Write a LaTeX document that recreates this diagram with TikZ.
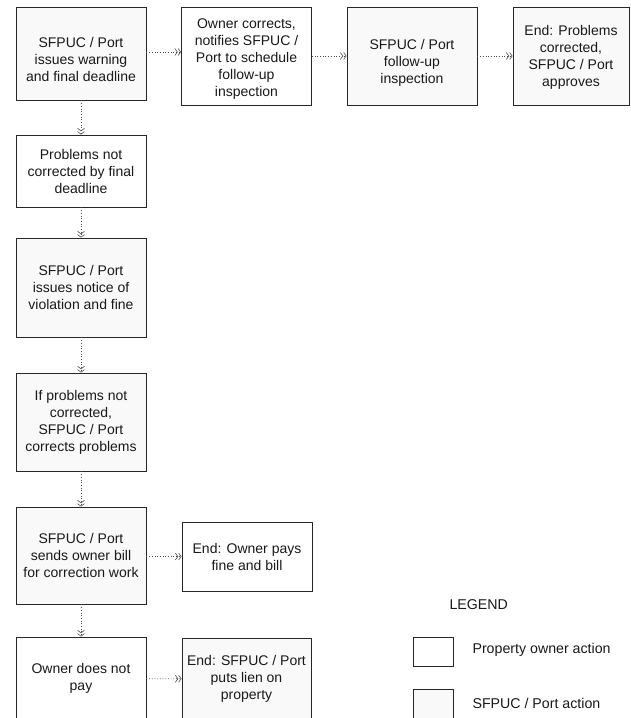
\documentclass[tikz,border=0pt]{standalone}
\usepackage{fontspec}
\setmainfont{Liberation Sans}
\usetikzlibrary{arrows.meta}
\definecolor{sfill}{gray}{0.975}
\tikzset{
  txt/.style={align=center, inner sep=0pt, font=\fontsize{14}{17}\selectfont, text=black!90},
  box/.style={draw=black!85, line width=0.9pt, rectangle, txt},
  owner/.style={box, fill=white},
  agency/.style={box, fill=sfill},
  shifted/.style 2 args={label={[txt, yshift=-#1pt]center:{#2}}},
  conn/.style={draw=black!70, dotted, line width=0.7pt,
     -{Straight Barb[length=2.6pt,width=7pt,line width=0.6pt]Straight Barb[length=2.6pt,width=7pt,line width=0.6pt]}},
  legtext/.style={anchor=west, font=\fontsize{14.2}{16}\selectfont, text=black!90}
}
\begin{document}
\begin{tikzpicture}[x=1pt,y=-1pt]
\useasboundingbox (0,0) rectangle (630,718);
\fill[white] (0,0) rectangle (630,718);
\begin{scope}
\clip (0,0) rectangle (630,718);
% top row
\node[agency, minimum width=130pt, minimum height=93pt,
  shifted={6}{SFPUC / Port\\issues warning\\and final deadline}] (b1) at (81,53.5) {};
\node[owner, minimum width=130pt, minimum height=98pt,
  shifted={3}{Owner corrects,\\notifies SFPUC /\\Port to schedule\\follow-up\\inspection}] (b2) at (246.5,56) {};
\node[agency, minimum width=130pt, minimum height=98pt,
  shifted={6.5}{SFPUC / Port\\follow-up\\inspection}] (b3) at (412,56) {};
\node[agency, minimum width=116pt, minimum height=98pt,
  shifted={1}{End: Problems\\corrected,\\SFPUC / Port\\approves}] (b4) at (571,56) {};
% column
\node[owner, minimum width=130pt, minimum height=72pt] (c1) at (81,171)
  {Problems not\\corrected by final\\deadline};
\node[agency, minimum width=130pt, minimum height=99pt] (c2) at (81,287.5)
  {SFPUC / Port\\issues notice of\\violation and fine};
\node[agency, minimum width=130pt, minimum height=98pt] (c3) at (81,422)
  {If problems not\\corrected,\\SFPUC / Port\\corrects problems};
\node[agency, minimum width=130pt, minimum height=97pt] (c4) at (81,555.5)
  {SFPUC / Port\\sends owner bill\\for correction work};
\node[owner, minimum width=130pt, minimum height=83pt] (c5) at (81,678.5)
  {Owner does not\\pay};
% side ends
\node[owner, minimum width=130pt, minimum height=69pt] (e1) at (247,556.5)
  {End: Owner pays\\fine and bill};
\node[agency, minimum width=129pt, minimum height=82pt] (e2) at (246.5,679)
  {End: SFPUC / Port\\puts lien on\\property};
% legend
\node[legtext] (lg) at (446,605) {LEGEND};
\node[owner, minimum width=40pt, minimum height=29pt] (l1) at (433,651.5) {};
\node[legtext] (lt1) at (469,650) {Property owner action};
\node[agency, minimum width=40pt, minimum height=31pt] (l2) at (433,704.5) {};
\node[legtext] (lt2) at (469,703) {SFPUC / Port action};
\end{scope}
% connectors
\draw[conn] (b1.east |- 0,52) -- (b2.west |- 0,52);
\draw[conn] (b2) -- (b3);
\draw[conn] (b3) -- (b4);
\draw[conn] (b1) -- (c1);
\draw[conn] (c1) -- (c2);
\draw[conn] (c2) -- (c3);
\draw[conn] (c3) -- (c4);
\draw[conn] (c4) -- (c5);
\draw[conn] (c4.east |- e1) -- (e1);
\draw[conn] (c5) -- (e2);
\end{tikzpicture}
\end{document}
